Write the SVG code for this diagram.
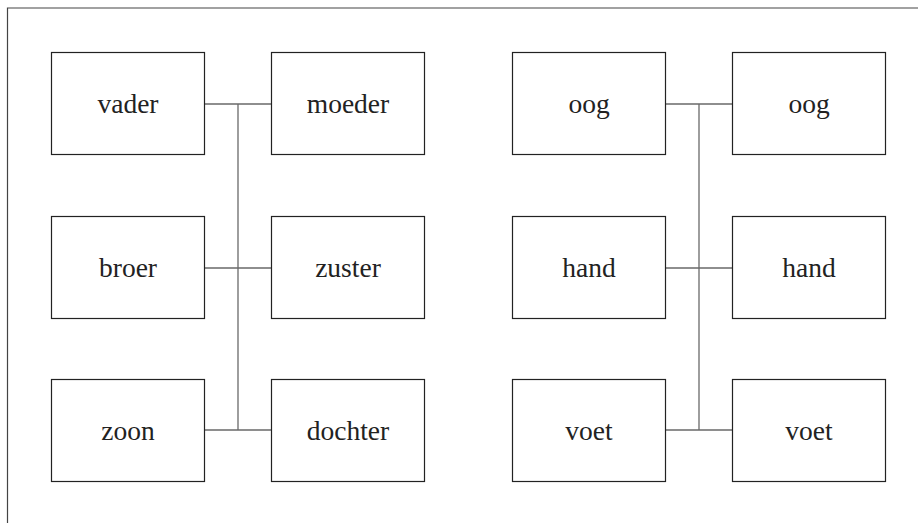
<svg xmlns="http://www.w3.org/2000/svg" width="918" height="523" viewBox="0 0 918 523">
  <style>
    .box { fill: #fff; stroke: #222; stroke-width: 1.2; }
    .label { font-family: "Liberation Serif", "DejaVu Serif", serif; font-size: 27.5px; fill: #222; text-anchor: middle; }
    .link { stroke: #6a6a6a; stroke-width: 1.3; fill: none; }
    .frame { stroke: #444; stroke-width: 1.2; fill: none; }
  </style>
  <rect width="918" height="523" fill="#fff"/>
  <!-- frame: top and left rule -->
  <path class="frame" d="M7.5 523 V8 H918"/>

  <!-- connectors -->
  <g id="connectors">
    <path class="link" d="M204.5 104 H271.5 M204.5 268 H271.5 M204.5 430 H271.5 M238 104 V430"/>
    <path class="link" d="M665.5 104 H732.5 M665.5 268 H732.5 M665.5 430 H732.5 M699 104 V430"/>
  </g>

  <!-- left family -->
  <g id="vader"><rect class="box" x="51.5" y="52.5" width="153" height="102"/><text class="label" x="128" y="112.5">vader</text></g>
  <g id="moeder"><rect class="box" x="271.5" y="52.5" width="153" height="102"/><text class="label" x="348" y="112.5">moeder</text></g>
  <g id="broer"><rect class="box" x="51.5" y="216.5" width="153" height="102"/><text class="label" x="128" y="276.5">broer</text></g>
  <g id="zuster"><rect class="box" x="271.5" y="216.5" width="153" height="102"/><text class="label" x="348" y="276.5">zuster</text></g>
  <g id="zoon"><rect class="box" x="51.5" y="379.5" width="153" height="102"/><text class="label" x="128" y="439.5">zoon</text></g>
  <g id="dochter"><rect class="box" x="271.5" y="379.5" width="153" height="102"/><text class="label" x="348" y="439.5">dochter</text></g>

  <!-- right body parts -->
  <g id="oog-links"><rect class="box" x="512.5" y="52.5" width="153" height="102"/><text class="label" x="589" y="112.5">oog</text></g>
  <g id="oog-rechts"><rect class="box" x="732.5" y="52.5" width="153" height="102"/><text class="label" x="809" y="112.5">oog</text></g>
  <g id="hand-links"><rect class="box" x="512.5" y="216.5" width="153" height="102"/><text class="label" x="589" y="276.5">hand</text></g>
  <g id="hand-rechts"><rect class="box" x="732.5" y="216.5" width="153" height="102"/><text class="label" x="809" y="276.5">hand</text></g>
  <g id="voet-links"><rect class="box" x="512.5" y="379.5" width="153" height="102"/><text class="label" x="589" y="439.5">voet</text></g>
  <g id="voet-rechts"><rect class="box" x="732.5" y="379.5" width="153" height="102"/><text class="label" x="809" y="439.5">voet</text></g>
</svg>
